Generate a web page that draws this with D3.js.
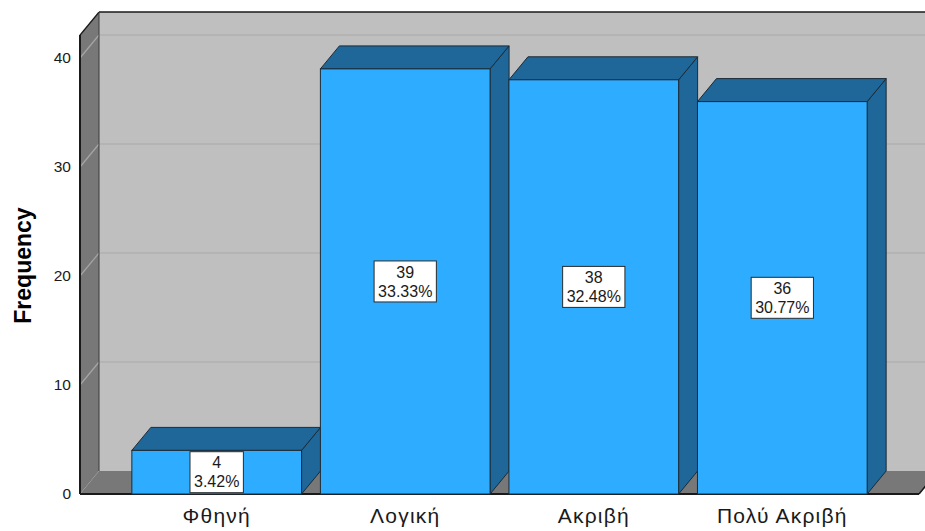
<!DOCTYPE html>
<html>
<head>
<meta charset="utf-8">
<script src="https://cdn.jsdelivr.net/npm/d3@7"></script>
<style>
  html, body { margin: 0; padding: 0; background: #ffffff; }
  svg { display: block; font-family: "Liberation Sans", Arial, sans-serif; }
</style>
</head>
<body>
<svg id="chart" width="925" height="531"></svg>
<script>
// Frequencies per price rating
const categories = ["Φθηνή", "Λογική", "Ακριβή", "Πολύ Ακριβή"];
const counts = [4, 39, 38, 36];
const percents = ["3.42%", "33.33%", "32.48%", "30.77%"];
const yTicks = [0, 10, 20, 30, 40];
const yTitle = "Frequency";

const svg = d3.select("#chart");

// front plane of the 3D box and depth offset of the back plane
const left = 80, right = 919, base = 494;
const DX = 19, DY = 23;
const yMax = 42.1;

const x = d3.scaleBand()
  .domain(categories)
  .range([left, right])
  .paddingInner(0.1)
  .paddingOuter(0.275);

const y = d3.scaleLinear()
  .domain([0, 40])
  .range([base, 58]);

const topY = y(yMax);

const col = {
  wall: "#bfbfbf",
  sideWall: "#787878",
  gridBack: "#b1b1b1",
  gridSide: "#a6a6a6",
  front: "#2eacff",
  dark: "#1f6798",
  edge: "#1c2b36"
};

const poly = pts => pts.map(p => p.join(",")).join(" ");

// back wall
svg.append("polygon")
  .attr("points", poly([[left + DX, topY - DY], [right + DX + 40, topY - DY], [right + DX + 40, base - DY], [left + DX, base - DY]]))
  .attr("fill", col.wall);

// left wall
svg.append("polygon")
  .attr("points", poly([[left, topY], [left + DX, topY - DY], [left + DX, base - DY], [left, base]]))
  .attr("fill", col.sideWall);

// floor
svg.append("polygon")
  .attr("points", poly([[left, base], [left + DX, base - DY], [right + DX, base - DY], [right, base]]))
  .attr("fill", col.sideWall);

// gridlines: diagonal on the left wall, horizontal on the back wall
const grid = svg.append("g");
yTicks.filter(t => t > 0).forEach(t => {
  grid.append("line")
    .attr("x1", left).attr("y1", y(t))
    .attr("x2", left + DX).attr("y2", y(t) - DY)
    .attr("stroke", col.gridSide).attr("stroke-width", 1.2);
  grid.append("line")
    .attr("x1", left + DX).attr("y1", y(t) - DY)
    .attr("x2", right + DX + 40).attr("y2", y(t) - DY)
    .attr("stroke", col.gridBack).attr("stroke-width", 1.5);
});

// box edges
const edges = svg.append("g").attr("fill", "none").attr("stroke", "#1a1a1a");
edges.append("line").attr("x1", left + DX).attr("y1", topY - DY).attr("x2", 925).attr("y2", topY - DY).attr("stroke-width", 1.5);
edges.append("line").attr("x1", left).attr("y1", topY).attr("x2", left + DX).attr("y2", topY - DY).attr("stroke-width", 1.5);
edges.append("line").attr("x1", left + DX).attr("y1", topY - DY).attr("x2", left + DX).attr("y2", base - DY).attr("stroke", "#3a3a3a").attr("stroke-width", 1);
edges.append("line").attr("x1", left).attr("y1", topY).attr("x2", left).attr("y2", base).attr("stroke-width", 2);
edges.append("line").attr("x1", left).attr("y1", base).attr("x2", right).attr("y2", base).attr("stroke-width", 2);
edges.append("line").attr("x1", right).attr("y1", base).attr("x2", right + DX).attr("y2", base - DY).attr("stroke-width", 1.5);

// bars
const bars = svg.append("g")
  .selectAll("g")
  .data(categories.map((c, i) => ({ cat: c, n: counts[i], pct: percents[i] })))
  .join("g");

bars.each(function(d) {
  const g = d3.select(this);
  const x0 = x(d.cat), x1 = x0 + x.bandwidth();
  const yT = y(d.n), y0 = y(0);
  g.append("polygon")
    .attr("points", poly([[x1, yT], [x1 + DX, yT - DY], [x1 + DX, y0 - DY], [x1, y0]]))
    .attr("fill", col.dark).attr("stroke", col.edge).attr("stroke-width", 1);
  g.append("polygon")
    .attr("points", poly([[x0, yT], [x0 + DX, yT - DY], [x1 + DX, yT - DY], [x1, yT]]))
    .attr("fill", col.dark).attr("stroke", col.edge).attr("stroke-width", 1);
  g.append("rect")
    .attr("x", x0).attr("y", yT)
    .attr("width", x1 - x0).attr("height", y0 - yT)
    .attr("fill", col.front).attr("stroke", col.edge).attr("stroke-width", 1);

  // value label box: count and percent
  const cx = (x0 + x1) / 2, cy = (yT + y0) / 2;
  const lbl = g.append("g");
  const box = lbl.append("rect").attr("fill", "#ffffff").attr("stroke", "#2a2a2a").attr("stroke-width", 1);
  const t = lbl.append("text")
    .attr("text-anchor", "middle")
    .attr("font-size", 16)
    .attr("fill", "#1a1a1a");
  t.append("tspan").attr("x", cx).attr("y", cy - 9.5).attr("dy", "0.35em").text(d.n);
  t.append("tspan").attr("x", cx).attr("y", cy + 9.5).attr("dy", "0.35em").text(d.pct);
  const w = t.node().getBBox().width + 8;
  const h = Math.min(41, y0 - yT);
  box.attr("x", cx - w / 2).attr("y", cy - h / 2).attr("width", w).attr("height", h);
});

// y axis labels
const yAxis = d3.axisLeft(y).tickValues(yTicks).tickSize(0).tickPadding(9);
const ag = svg.append("g").attr("transform", `translate(${left},0)`).call(yAxis);
ag.select(".domain").remove();
ag.selectAll("text")
  .attr("font-size", 15.5)
  .attr("font-family", "Liberation Sans, Arial, sans-serif")
  .attr("fill", "#1a1a1a");

// category labels
const xAxis = d3.axisBottom(x).tickSize(0).tickPadding(14);
const xg = svg.append("g").attr("transform", `translate(0,${base})`).call(xAxis);
xg.select(".domain").remove();
xg.selectAll("text")
  .attr("font-size", 21)
  .attr("letter-spacing", "1.2px")
  .attr("font-family", "Liberation Sans, Arial, sans-serif")
  .attr("fill", "#1a1a1a");

// axis title
svg.append("text")
  .attr("transform", `translate(31,${(base + topY) / 2 + 1}) rotate(-90)`)
  .attr("text-anchor", "middle")
  .attr("font-size", 23)
  .attr("font-weight", "bold")
  .attr("fill", "#000")
  .text(yTitle);
</script>
</body>
</html>
